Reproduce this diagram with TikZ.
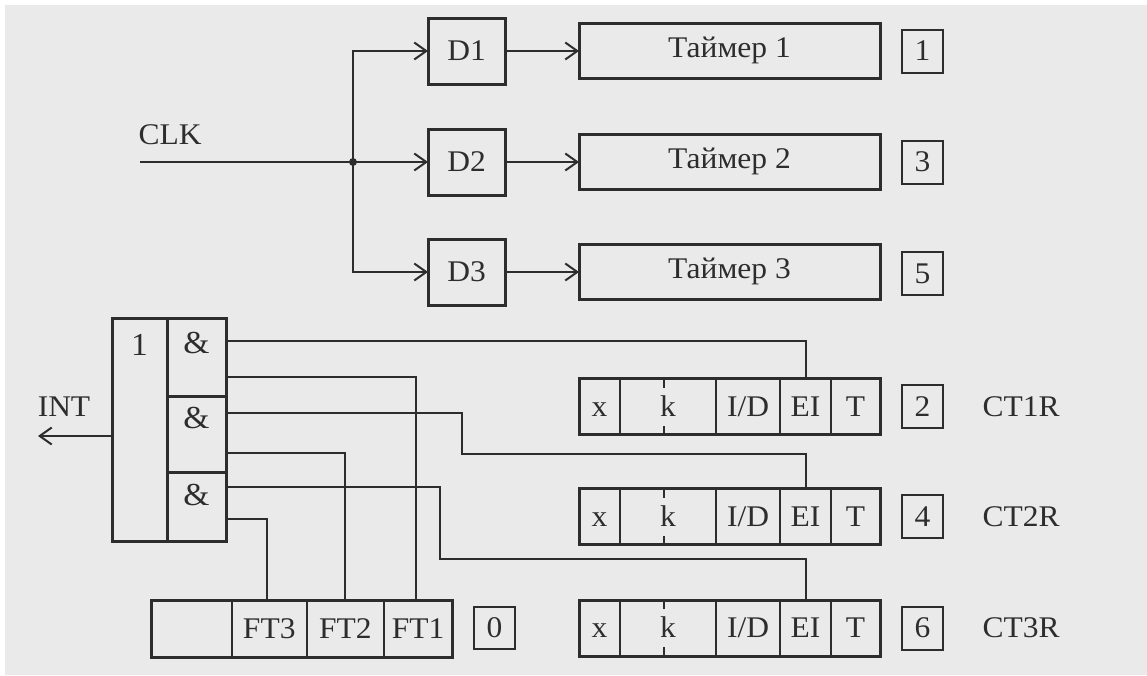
\documentclass[tikz,border=0pt]{standalone}
\usepackage{fontspec}
\setmainfont[FakeStretch=1.05]{Liberation Serif}
\usetikzlibrary{arrows.meta,calc,fit}
\definecolor{ink}{RGB}{45,45,45}
\definecolor{paper}{RGB}{234,234,234}
\begin{document}
\begin{tikzpicture}[x=1pt,y=-1pt,
  every node/.style={inner sep=0pt, outer sep=0pt, text=ink},
  lbl/.style={font=\fontsize{30}{30}\selectfont, text height=19.8pt, text depth=0pt},
  thickbox/.style={draw=ink, line width=3pt, rectangle, lbl},
  dbox/.style={thickbox, minimum width=77pt, minimum height=66pt},
  tbox/.style={thickbox, minimum width=301pt, minimum height=55pt, text depth=6pt},
  nbox/.style={draw=ink, line width=2pt, rectangle, minimum width=41pt, minimum height=43pt, lbl},
  cell/.style={draw=ink, line width=2pt, rectangle, lbl},
  frame/.style={draw=ink, line width=3pt, rectangle, inner sep=0pt},
  wire/.style={draw=ink, line width=2pt},
  arr/.style={wire, -{Straight Barb[length=12pt,width=17pt]}}
]
\fill[white] (0,0) rectangle (1147,675);
\fill[paper] (5,5) rectangle (1147,675);
\useasboundingbox (0,0) rectangle (1147,675);

% clock dividers and timers
\node[dbox] (D1) at (466.5,51) {D1};
\node[dbox] (D2) at (466.5,162) {D2};
\node[dbox] (D3) at (466.5,272) {D3};
\node[tbox] (T1) at (729.5,51) {Таймер 1};
\node[tbox] (T2) at (729.5,162) {Таймер 2};
\node[tbox] (T3) at (729.5,272) {Таймер 3};
\node[nbox] (n1) at (922.5,51) {1};
\node[nbox] (n3) at (922.5,162) {3};
\node[nbox] (n5) at (922.5,273.5) {5};

\node[lbl] (clk) at (170,135) {CLK};
\coordinate (clkin) at (140,162);
\coordinate (j) at (353,162);
\draw[arr] (clkin) -- (D2.west);
\draw[arr] (j) |- (D1.west);
\draw[arr] (j) |- (D3.west);
\fill[ink] (j) circle (4pt);
\draw[arr] (D1.east) -- (T1.west);
\draw[arr] (D2.east) -- (T2.west);
\draw[arr] (D3.east) -- (T3.west);

% control registers
\foreach \r/\y/\n in {1/406.5/2, 2/516.5/4, 3/628/6}{
  \node[cell, minimum width=41pt, minimum height=56pt] (ct\r-x) at (599.5,\y) {x};
  \node[cell, minimum width=96pt, minimum height=56pt] (ct\r-k) at (668,\y) {k};
  \node[cell, minimum width=64pt, minimum height=56pt] (ct\r-id) at (748,\y) {I/D};
  \node[cell, minimum width=51pt, minimum height=56pt] (ct\r-ei) at (805.5,\y) {EI};
  \node[cell, minimum width=49pt, minimum height=56pt] (ct\r-t) at (855.5,\y) {T};
  \node[frame, fit=(ct\r-x)(ct\r-t)] (ct\r) {};
  \draw[wire] ($(ct\r-k.north)+(-4,0)$) -- ++(0,9);
  \draw[wire] ($(ct\r-k.south)+(-4,0)$) -- ++(0,-9);
  \node[nbox] (nc\r) at (922.5,\y) {\n};
  \node[lbl] (lab\r) at (1021,\y) {CT\r R};
}

% interrupt logic
\node[thickbox, minimum width=55pt, minimum height=223pt] (or) at (139.5,429.5) {};
\node[thickbox, minimum width=59pt, minimum height=78pt] (g1) at (196.5,357) {};
\node[thickbox, minimum width=59pt, minimum height=76pt] (g2) at (196.5,434) {};
\node[thickbox, minimum width=59pt, minimum height=69pt] (g3) at (196.5,506.5) {};
\node[lbl, font=\fontsize{32}{32}\selectfont] (orl) at (139.5,346) {1};
\node[lbl, font=\fontsize{32}{32}\selectfont] (g1l) at (196.5,344) {\&};
\node[lbl, font=\fontsize{32}{32}\selectfont] (g2l) at (196.5,419) {\&};
\node[lbl, font=\fontsize{32}{32}\selectfont] (g3l) at (196.5,496) {\&};

\node[lbl] (int) at (64,407) {INT};
\coordinate (intend) at (38,436);
\draw[arr] ($(or.west)+(0,6.5)$) -- (intend);

% flag register
\node[cell, minimum width=81pt, minimum height=57pt] (ft0) at (191.5,628.5) {};
\node[cell, minimum width=74.5pt, minimum height=57pt] (ft3) at (269.25,628.5) {FT3};
\node[cell, minimum width=77.5pt, minimum height=57pt] (ft2) at (345.25,628.5) {FT2};
\node[cell, minimum width=68pt, minimum height=57pt] (ft1) at (418,628.5) {FT1};
\node[frame, fit=(ft0)(ft1)] (ft) {};
\node[nbox, minimum height=42pt] (n0) at (494.5,628) {0};

% wiring
\coordinate (b2) at (462,454);
\coordinate (b3) at (440,559);
\draw[wire] ($(g1.north east)+(0,23)$) -| (ct1-ei.north);
\draw[wire] ($(g1.north east)+(0,59)$) -| ($(ft1.north)+(-2,0)$);
\draw[wire] ($(g2.north east)+(0,17)$) -| (b2) -| (ct2-ei.north);
\draw[wire] ($(g2.north east)+(0,57)$) -| (ft2.north);
\draw[wire] ($(g3.north east)+(0,15)$) -| (b3) -| (ct3-ei.north);
\draw[wire] ($(g3.north east)+(0,47)$) -| ($(ft3.north)+(-2,0)$);
\end{tikzpicture}
\end{document}
